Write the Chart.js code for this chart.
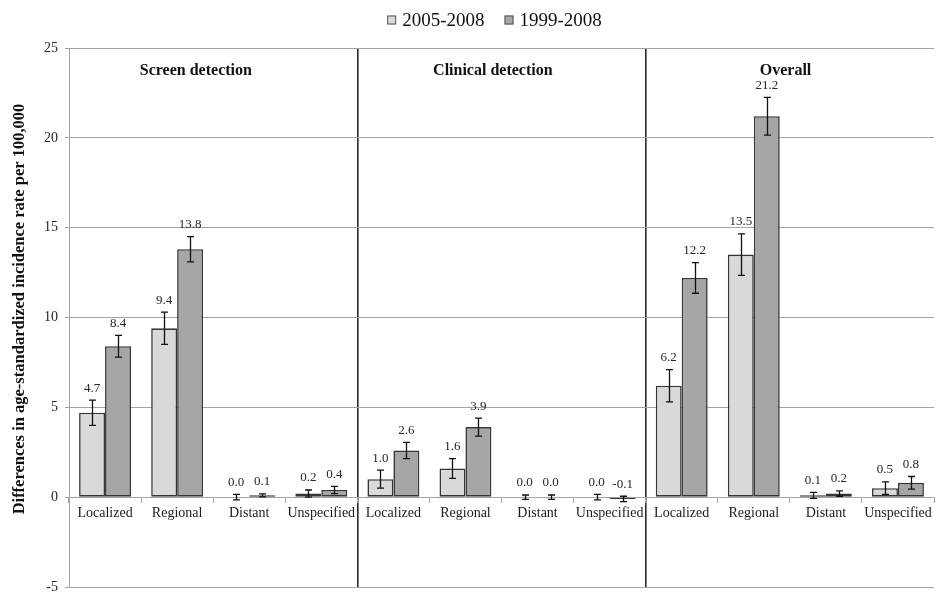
<!DOCTYPE html>
<html>
<head>
<meta charset="utf-8">
<script src="https://cdn.jsdelivr.net/npm/chart.js@4/dist/chart.umd.min.js"></script>
<style>
  html, body { margin: 0; padding: 0; background: #ffffff; }
  #wrap { width: 940px; height: 592px; }
</style>
</head>
<body>
<div id="wrap"><canvas id="chart" width="940" height="592"></canvas></div>
<script>
// Stage categories, repeated for each detection mode
const stages = ['Localized', 'Regional', 'Distant', 'Unspecified'];
const categories = [...stages, ...stages, ...stages];
const groupTitles = ['Screen detection', 'Clinical detection', 'Overall'];
const seriesNames = ['2005-2008', '1999-2008'];

// Differences in age-standardized incidence rate per 100,000
const values2005 = [4.7, 9.4, 0.0, 0.2, 1.0, 1.6, 0.0, 0.0, 6.2, 13.5, 0.1, 0.5];
const values1999 = [8.4, 13.8, 0.1, 0.4, 2.6, 3.9, 0.0, -0.1, 12.2, 21.2, 0.2, 0.8];

// Half-widths of the error bars
const errors2005 = [0.7, 0.9, 0.15, 0.2, 0.5, 0.55, 0.12, 0.15, 0.9, 1.15, 0.17, 0.35];
const errors1999 = [0.6, 0.7, 0.08, 0.2, 0.45, 0.5, 0.12, 0.15, 0.85, 1.05, 0.15, 0.35];

// Y axis ticks
const yTicks = [-5, 0, 5, 10, 15, 20, 25];

const SERIF = '"Liberation Serif", "Times New Roman", serif';
const LIGHT = '#d9d9d9';
const DARK = '#a6a6a6';
const EDGE = '#363636';
const GRID = '#a3a3a3';

const decor = {
  id: 'decor',
  afterDatasetsDraw(chart) {
    const { ctx, scales: { x, y } } = chart;
    ctx.save();
    // error bars and value labels
    chart.data.datasets.forEach((ds, di) => {
      const meta = chart.getDatasetMeta(di);
      meta.data.forEach((bar, i) => {
        const v = ds.data[i];
        const e = ds.errors[i];
        const yTop = y.getPixelForValue(v + e);
        const yBot = y.getPixelForValue(v - e);
        const cx = Math.round(bar.x) + 0.5;
        ctx.strokeStyle = '#111111';
        ctx.lineWidth = 1.3;
        ctx.beginPath();
        ctx.moveTo(cx, yTop); ctx.lineTo(cx, yBot);
        ctx.moveTo(cx - 3.5, yTop); ctx.lineTo(cx + 3.5, yTop);
        ctx.moveTo(cx - 3.5, yBot); ctx.lineTo(cx + 3.5, yBot);
        ctx.stroke();

        ctx.fillStyle = '#262626';
        ctx.font = '13px ' + SERIF;
        ctx.textAlign = 'center';
        ctx.textBaseline = 'middle';
        const labelY = Math.min(yTop, bar.y) - 12;
        ctx.fillText(v.toFixed(1), bar.x, labelY);
      });
    });
    ctx.restore();
  },
  afterDraw(chart) {
    const { ctx, scales: { x, y }, chartArea } = chart;
    ctx.save();

    // detection-mode headings
    ctx.fillStyle = '#111111';
    ctx.font = 'bold 16px ' + SERIF;
    ctx.textAlign = 'center';
    ctx.textBaseline = 'middle';
    const headingAt = [1.26, 5.38, 9.44];
    groupTitles.forEach((t, g) => {
      ctx.fillText(t, x.getPixelForValue(headingAt[g]), chartArea.top + 23);
    });

    // y axis title
    ctx.save();
    ctx.translate(20, 309);
    ctx.rotate(-Math.PI / 2);
    ctx.font = 'bold 16.5px ' + SERIF;
    ctx.fillStyle = '#111111';
    ctx.fillText('Differences in age-standardized incidence rate per 100,000', 0, 0);
    ctx.restore();

    // legend
    ctx.font = '19px ' + SERIF;
    ctx.textAlign = 'left';
    const box = 9, gapText = 6, gapItem = 20;
    const items = chart.data.datasets.map(ds => ({
      label: ds.label, color: ds.backgroundColor, w: ctx.measureText(ds.label).width
    }));
    const total = items.reduce((s, it) => s + box + gapText + it.w, 0) + gapItem * (items.length - 1);
    let lx = 494.5 - total / 2;
    const ly = 20;
    items.forEach(it => {
      ctx.fillStyle = it.color;
      ctx.fillRect(lx, ly - box / 2, box, box);
      ctx.strokeStyle = '#555555';
      ctx.lineWidth = 1;
      ctx.strokeRect(lx + 0.5, ly - box / 2 + 0.5, box - 1, box - 1);
      ctx.fillStyle = '#111111';
      ctx.fillText(it.label, lx + box + gapText, ly + 1);
      lx += box + gapText + it.w + gapItem;
    });

    ctx.restore();
  }
};

new Chart(document.getElementById('chart'), {
  type: 'bar',
  data: {
    labels: categories,
    datasets: [
      {
        label: seriesNames[0],
        data: values2005,
        errors: errors2005,
        backgroundColor: LIGHT,
        borderColor: EDGE,
        borderWidth: 1.6,
        borderSkipped: false,
        categoryPercentage: 0.72,
        barPercentage: 1.0
      },
      {
        label: seriesNames[1],
        data: values1999,
        errors: errors1999,
        backgroundColor: DARK,
        borderColor: EDGE,
        borderWidth: 1.6,
        borderSkipped: false,
        categoryPercentage: 0.72,
        barPercentage: 1.0
      }
    ]
  },
  options: {
    responsive: false,
    animation: false,
    layout: { padding: { top: 48, right: 6, bottom: 5, left: 0 } },
    plugins: {
      legend: { display: false },
      tooltip: { enabled: false },
      title: { display: false }
    },
    scales: {
      x: {
        position: { y: 0 },
        offset: true,
        afterFit(scale) { scale.paddingTop = 0; scale.paddingBottom = 0; },
        grid: {
          offset: true,
          drawOnChartArea: true,
          drawTicks: true,
          tickLength: 5,
          tickColor: GRID,
          color: ctx => (ctx.index === 4 || ctx.index === 8 || ctx.index === 12) ? '#2b2b2b' : 'rgba(0,0,0,0)',
          lineWidth: ctx => (ctx.index === 4 || ctx.index === 8 || ctx.index === 12) ? 1.6 : 1
        },
        border: { display: true, color: GRID, width: 1 },
        ticks: {
          autoSkip: false,
          maxRotation: 0,
          minRotation: 0,
          padding: 3,
          color: '#1a1a1a',
          font: { family: SERIF, size: 14 }
        }
      },
      y: {
        min: -5,
        max: 25,
        afterFit(scale) {
          scale.width = 69;
          scale.paddingTop = 0;
          scale.paddingBottom = 0;
        },
        afterBuildTicks(scale) { scale.ticks = yTicks.map(v => ({ value: v })); },
        grid: {
          color: GRID,
          lineWidth: 1,
          drawTicks: true,
          tickLength: 4,
          tickColor: GRID
        },
        border: { display: true, color: GRID, width: 1 },
        ticks: {
          padding: 7,
          color: '#262626',
          font: { family: SERIF, size: 14 }
        }
      }
    }
  },
  plugins: [decor]
});
</script>
</body>
</html>
